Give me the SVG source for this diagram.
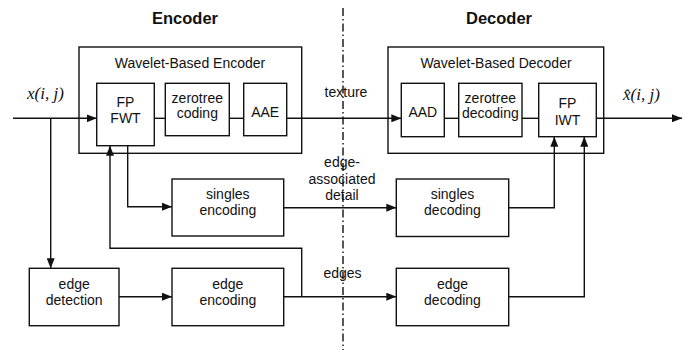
<svg xmlns="http://www.w3.org/2000/svg" width="687" height="350" viewBox="0 0 687 350">
<style>
.box{fill:none;stroke:#111;stroke-width:1.4}
.t{font-family:"Liberation Sans",Arial,sans-serif;font-size:14px;fill:#111;text-anchor:middle}
.title{font-family:"Liberation Sans",Arial,sans-serif;font-size:16.5px;font-weight:bold;fill:#111;text-anchor:middle}
.m{font-family:"Liberation Serif","Times New Roman",serif;font-size:17px;font-style:italic;fill:#111}
.c{fill:none;stroke:#111;stroke-width:1.4}
.a{fill:none;stroke:#111;stroke-width:1.4;marker-end:url(#ah)}
</style>
<defs>
<marker id="ah" viewBox="0 0 10 8" refX="10" refY="4" markerWidth="10" markerHeight="8" markerUnits="userSpaceOnUse" orient="auto">
<path d="M0,0 L10,4 L0,8 Z" fill="#111"/>
</marker>
</defs>
<rect width="687" height="350" fill="#fff"/>
<line x1="343" y1="8" x2="343" y2="350" stroke="#111" stroke-width="1.4" stroke-dasharray="8 3 1.5 3"/>
<text class="title" x="185" y="24">Encoder</text>
<text class="title" x="499" y="24">Decoder</text>
<g id="encoder">
<rect class="box" x="79" y="47" width="222.7" height="106.3"/>
<text class="t" x="190" y="67.7">Wavelet-Based Encoder</text>
</g>
<g id="decoder">
<rect class="box" x="388" y="47" width="215.7" height="106.3"/>
<text class="t" x="496" y="67.7">Wavelet-Based Decoder</text>
</g>
<g id="fwt"><rect class="box" x="96.7" y="83.3" width="57.6" height="62.4"/><text class="t" x="125.5" y="107">FP</text><text class="t" x="125.5" y="123">FWT</text></g>
<g id="zt-coding"><rect class="box" x="165.3" y="83.3" width="64" height="52.4"/><text class="t" x="197.3" y="102.5">zerotree</text><text class="t" x="197.3" y="117.5">coding</text></g>
<g id="aae"><rect class="box" x="243.7" y="83.3" width="43" height="52.4"/><text class="t" x="265.2" y="117">AAE</text></g>
<g id="aad"><rect class="box" x="401.3" y="83.3" width="43" height="53.4"/><text class="t" x="422.8" y="117">AAD</text></g>
<g id="zt-decoding"><rect class="box" x="458.7" y="83.3" width="63.3" height="53.4"/><text class="t" x="490.3" y="103">zerotree</text><text class="t" x="490.3" y="117.5">decoding</text></g>
<g id="iwt"><rect class="box" x="538.7" y="83.3" width="57.6" height="53.4"/><text class="t" x="567.5" y="108">FP</text><text class="t" x="567.5" y="124.5">IWT</text></g>
<g id="singles-enc"><rect class="box" x="172" y="179" width="111.7" height="57"/><text class="t" x="227.8" y="199">singles</text><text class="t" x="227.8" y="215">encoding</text></g>
<g id="singles-dec"><rect class="box" x="396.3" y="179" width="112.4" height="57.5"/><text class="t" x="452.5" y="199">singles</text><text class="t" x="452.5" y="215">decoding</text></g>
<g id="edge-det"><rect class="box" x="29.3" y="268.3" width="89.7" height="57.4"/><text class="t" x="74.2" y="288.5">edge</text><text class="t" x="74.2" y="305">detection</text></g>
<g id="edge-enc"><rect class="box" x="172" y="268.3" width="111.7" height="57.4"/><text class="t" x="227.8" y="288.5">edge</text><text class="t" x="227.8" y="305">encoding</text></g>
<g id="edge-dec"><rect class="box" x="396.3" y="268.3" width="112.4" height="57.4"/><text class="t" x="452.5" y="288.5">edge</text><text class="t" x="452.5" y="305">decoding</text></g>
<g id="connectors">
<path class="a" d="M13,118.3 H96.7"/>
<path class="a" d="M50.7,118.3 V268.3"/>
<path class="a" d="M119,296.7 H172"/>
<path class="a" d="M301.7,296.7 V248.3 H110 V145.7"/>
<path class="a" d="M127.7,145.7 V206.7 H172"/>
<path class="c" d="M154.3,118.3 H165.3"/>
<path class="c" d="M229.3,118.3 H243.7"/>
<path class="a" d="M286.7,118.3 H401.3"/>
<path class="c" d="M444.3,118.3 H458.7"/>
<path class="c" d="M522,118.3 H538.7"/>
<path class="a" d="M596.3,118.3 H682"/>
<path class="a" d="M283.7,207.7 H396.3"/>
<path class="a" d="M508.7,207.7 H554.3 V136.7"/>
<path class="a" d="M283.7,296.7 H396.3"/>
<path class="a" d="M508.7,296.7 H584.3 V136.7"/>
</g>
<text class="t" x="346" y="97">texture</text>
<text class="t" x="342" y="167">edge-</text>
<text class="t" x="342" y="183.5">associated</text>
<text class="t" x="342" y="200">detail</text>
<text class="t" x="342.5" y="278">edges</text>
<text class="m" x="27" y="99">x(i, j)</text>
<text class="m" x="623" y="100">x̂(i, j)</text>
</svg>
